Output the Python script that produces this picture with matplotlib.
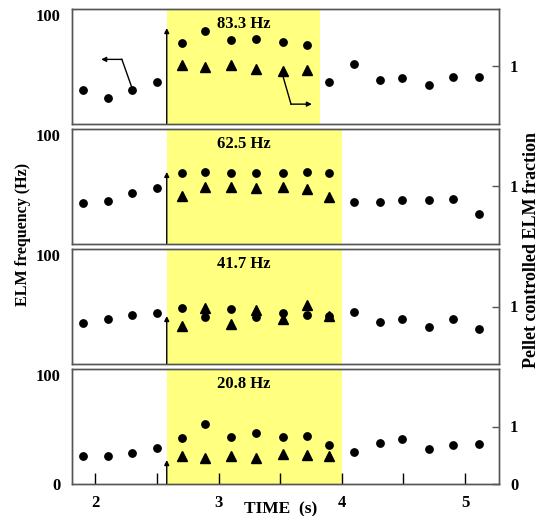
import matplotlib
matplotlib.use("Agg")
import matplotlib.pyplot as plt

plt.rcParams['font.family'] = ['Liberation Serif', 'DejaVu Serif']
plt.rcParams['font.weight'] = 'bold'

# ---------------- data ----------------
times = [1.90, 2.10, 2.30, 2.50, 2.70, 2.89, 3.10, 3.30, 3.52, 3.72, 3.90,
         4.10, 4.31, 4.49, 4.71, 4.90, 5.11]
tri_times = [2.70, 2.89, 3.10, 3.30, 3.52, 3.72, 3.90]

pellet_freq = [83.3, 62.5, 41.7, 20.8]
panel_labels = ["83.3 Hz", "62.5 Hz", "41.7 Hz", "20.8 Hz"]
pellet_start = 2.58
pellet_end = [3.82, 4.00, 4.00, 4.00]

elm_freq = [
    [29.1, 21.9, 29.1, 36.4, 70.0, 80.8, 72.9, 73.5, 71.4, 68.5, 36.4,
     51.6, 38.1, 39.6, 33.8, 40.8, 40.2],
    [35.5, 37.3, 43.7, 48.7, 61.2, 62.1, 61.8, 61.8, 61.8, 62.1, 61.8,
     36.4, 36.4, 37.9, 37.9, 38.5, 26.2],
    [35.4, 38.8, 42.6, 44.6, 48.4, 41.2, 47.8, 40.6, 44.1, 42.6, 41.5,
     45.5, 36.8, 39.1, 32.5, 39.1, 30.1],
    [24.6, 24.6, 26.7, 31.6, 40.3, 51.9, 41.2, 44.1, 41.2, 41.7, 33.9,
     28.1, 35.4, 38.8, 30.7, 33.9, 34.8],
]
elm_fraction = [
    [1.017, 0.99, 1.017, 0.953, 0.918, 0.933],
    [0.83, 0.98, 0.98, 0.968, 0.99, 0.945, 0.816],
    [0.654, 0.968, 0.69, 0.94, 0.776, 1.026, 0.84],
    [0.49, 0.46, 0.49, 0.45, 0.516, 0.504, 0.484],
]

x_ticks = [2, 2.5, 3, 3.5, 4, 4.5, 5]
x_ticklabels = ["2", "", "3", "", "4", "", "5"]

# annotation arrows in top panel (time, ELM frequency)
left_arrow = [(2.295, 32.0), (2.216, 56.0), (2.048, 56.0)]
right_arrow = [(3.518, 43.0), (3.588, 16.9), (3.757, 16.9)]

# ---------------- figure ----------------
W, H = 544, 516
fig = plt.figure(figsize=(W / 100, H / 100), dpi=100)

left_px, right_px = 71.7, 499
panels_px = [(9, 123.5), (129, 243.5), (249, 364), (369, 484)]
spine_col = '#555555'
yellow = '#FFFF80'
fs = 12

for i, (top, bot) in enumerate(panels_px):
    ax = fig.add_axes([left_px / W, 1 - bot / H, (right_px - left_px) / W, (bot - top) / H])
    ax.set_xlim(1.809, 5.275)
    ax.set_ylim(0, 100)
    ax.axvspan(pellet_start, pellet_end[i], color=yellow, lw=0, zorder=0)
    ax.plot(times, elm_freq[i], 'o', color='k', ms=5.3, zorder=3)
    ax.annotate('', xy=(pellet_start, pellet_freq[i]), xytext=(pellet_start, 0),
                arrowprops=dict(arrowstyle='-|>', lw=1.0, color='k',
                                mutation_scale=7, shrinkA=0, shrinkB=0), zorder=4)
    ax.text(3.206, 87.0, panel_labels[i], ha='center', va='center',
            fontsize=fs, fontweight='bold')

    ax2 = ax.twinx()
    ax2.set_ylim(0, 2)
    ax2.plot(tri_times[:len(elm_fraction[i])], elm_fraction[i], '^', color='k', ms=6.5, zorder=3)

    for a in (ax, ax2):
        for s in a.spines.values():
            s.set_color(spine_col)
            s.set_linewidth(1.0)

    last = (i == 3)
    if last:
        ax.set_yticks([0, 100])
        ax.set_yticklabels(["0", "100"])
        ax2.set_yticks([0, 1])
        ax2.set_yticklabels(["0", "1"])
    else:
        ax.set_yticks([100])
        ax.set_yticklabels(["100"])
        ax2.set_yticks([1])
        ax2.set_yticklabels(["1"])
    for lab in ax.get_yticklabels():
        if lab.get_text() == "100":
            lab.set_va('top')
    ax.tick_params(axis='y', length=0, pad=8, labelsize=fs)
    ax2.tick_params(axis='y', direction='in', length=5, width=1, color=spine_col,
                    pad=8, labelsize=fs)

    if last:
        ax.set_xticks(x_ticks)
        ax.set_xticklabels(x_ticklabels)
        ax.tick_params(axis='x', direction='in', length=8, width=1, color='k',
                       pad=8, labelsize=fs)
    else:
        ax.set_xticks([])

    if i == 0:
        for pts in (left_arrow, right_arrow):
            xs = [p[0] for p in pts[:2]]
            ys = [p[1] for p in pts[:2]]
            ax.plot(xs, ys, color='k', lw=1.0, zorder=4)
            ax.annotate('', xy=pts[2], xytext=pts[1],
                        arrowprops=dict(arrowstyle='-|>', lw=1.0, color='k',
                                        mutation_scale=7, shrinkA=0, shrinkB=0), zorder=4)

fig.text(23 / W, 1 - 234 / H, "ELM frequency (Hz)", rotation=90, ha='center', va='center',
         fontsize=11.5, fontweight='bold')
fig.text(531 / W, 1 - 250 / H, "Pellet controlled ELM fraction", rotation=90,
         ha='center', va='center', fontsize=13, fontweight='bold')
fig.text(280.5 / W, 1 - 509 / H, "TIME  (s)", ha='center', va='center',
         fontsize=12.5, fontweight='bold')

fig.savefig("out.png", dpi=100)
